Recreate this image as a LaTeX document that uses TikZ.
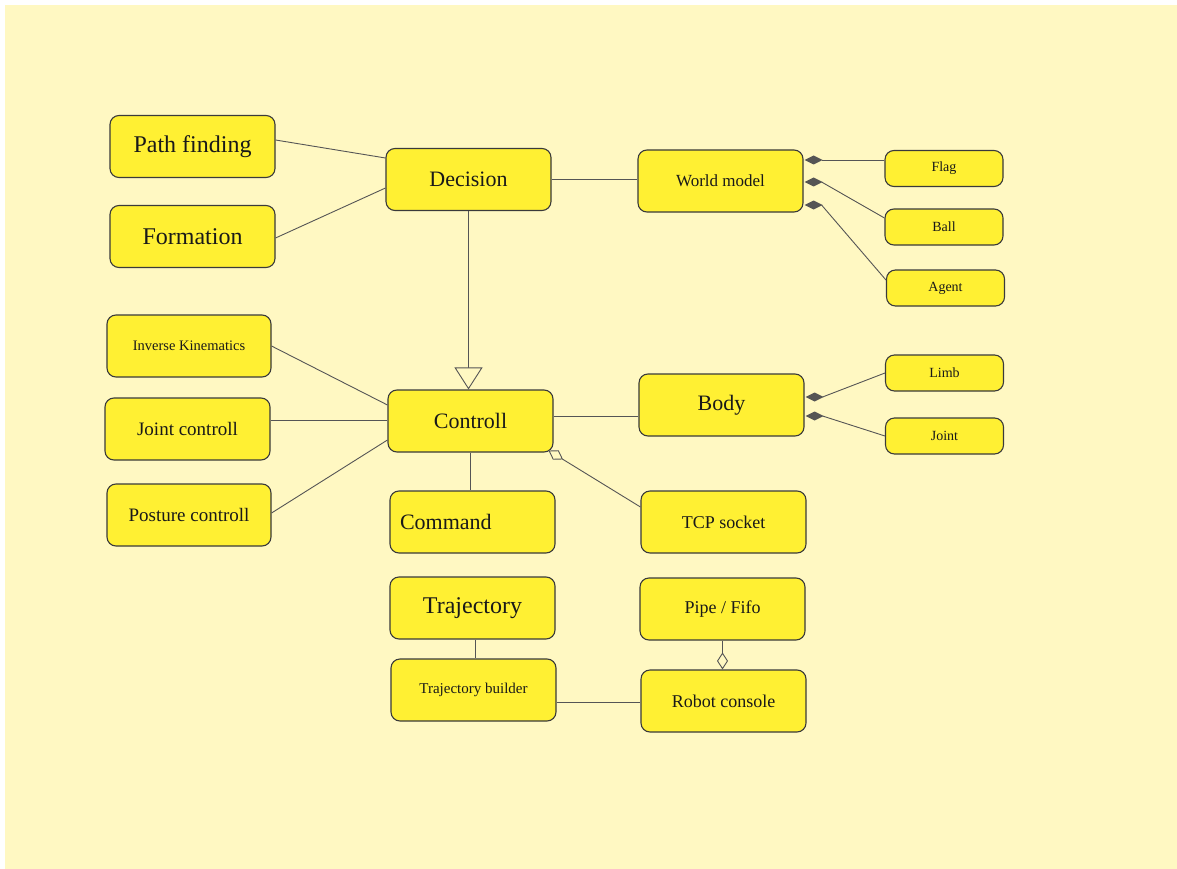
\documentclass[tikz,border=0pt]{standalone}
\usepackage{fontspec}
\setmainfont{Liberation Serif}
\usetikzlibrary{arrows.meta}
\definecolor{bg}{HTML}{FFF8C2}
\definecolor{boxfill}{HTML}{FFF033}
\definecolor{boxline}{HTML}{3A3A3A}
\definecolor{conn}{HTML}{555555}
\newcommand{\fs}[1]{\fontsize{#1}{#1}\selectfont}
\newcommand{\fdiam}[1]{\fill[conn] (#1) -- ++(9pt,4.5pt) -- ++(9pt,-4.5pt) -- ++(-9pt,-4.5pt) -- cycle;}
\begin{document}
\begin{tikzpicture}[x=1pt,y=1pt,
 box/.style={draw=boxline, line width=1.1pt, fill=boxfill, rounded corners=9pt, minimum width=165pt, minimum height=62pt, inner sep=0pt, text=black!90},
 smallbox/.style={box, minimum width=118pt, minimum height=36pt, font=\fs{14}},
 link/.style={draw=conn, line width=0.9pt},
 odia/.style={-{Diamond[open,length=17pt,width=11pt,fill=bg]}},
 otri/.style={-{Triangle[open,length=22pt,width=28pt,fill=bg]}}]
\useasboundingbox (0,0) rectangle (1177,-869);
\fill[white] (0,0) rectangle (1177,-869);
\fill[bg] (5,-5) rectangle (1177,-869);

\node[box, font=\fs{24}] (pf) at (192.5,-146.5) {Path finding};
\node[box, font=\fs{24}] (form) at (192.5,-236.5) {Formation};
\node[box, font=\fs{22}] (dec) at (468.5,-179.5) {Decision};
\node[box, font=\fs{17}] (wm) at (720.5,-181) {World model};
\node[smallbox] (flag) at (944,-168.5) {Flag};
\node[smallbox] (ball) at (944,-227) {Ball};
\node[smallbox] (agent) at (945.5,-288) {Agent};
\node[box, minimum width=164pt, font=\fs{14.5}] (ik) at (189,-346) {Inverse Kinematics};
\node[box, font=\fs{19}] (jc) at (187.5,-429) {Joint controll};
\node[box, minimum width=164pt, font=\fs{19}] (pc) at (189,-515) {Posture controll};
\node[box, font=\fs{22}] (ctl) at (470.5,-421) {Controll};
\node[box, font=\fs{22}] (body) at (721.5,-405) {Body};
\node[smallbox] (limb) at (944.5,-373) {Limb};
\node[smallbox] (joint) at (944.5,-436) {Joint};
\node[box, font=\fs{22}, text width=145pt, align=left] (cmd) at (472.5,-522) {Command};
\node[box, font=\fs{18}] (tcp) at (723.5,-522) {TCP socket};
\node[box, font=\fs{24}] (traj) at (472.5,-608) {Trajectory};
\node[box, font=\fs{18}] (pipe) at (722.5,-609) {Pipe / Fifo};
\node[box, font=\fs{15}] (tb) at (473.5,-690) {Trajectory builder};
\node[box, font=\fs{18}] (rc) at (723.5,-701) {Robot console};

% composition end points
\coordinate (wmflag) at ([xshift=1pt,yshift=21pt]wm.east);
\coordinate (wmball) at ([xshift=1pt,yshift=-1pt]wm.east);
\coordinate (wmagent) at ([xshift=1pt,yshift=-24pt]wm.east);
\coordinate (bdlimb) at ([xshift=1pt,yshift=8pt]body.east);
\coordinate (bdjoint) at ([xshift=1pt,yshift=-11pt]body.east);

% Decision group
\draw[link] ([yshift=6.5pt]pf.east) -- ([yshift=21.5pt]dec.west);
\draw[link] ([yshift=-1.5pt]form.east) -- ([yshift=-8.5pt]dec.west);
\draw[link] (dec.east) -- (dec.east -| wm.west);
\draw[link, otri] (dec.south) -- (dec.south |- ctl.north);

% World model parts
\draw[link] ([yshift=8.5pt]flag.west) -- ([xshift=17pt]wmflag);
\draw[link] ([yshift=9pt]ball.west) -- ([xshift=17pt]wmball);
\draw[link] ([yshift=8pt]agent.west) -- ([xshift=17pt]wmagent);
\fdiam{wmflag}
\fdiam{wmball}
\fdiam{wmagent}

% Controll group
\draw[link] (ik.east) -- ([yshift=16pt]ctl.west);
\draw[link] ([yshift=9pt]jc.east) -- ([yshift=1pt]ctl.west);
\draw[link] ([yshift=2pt]pc.east) -- ([yshift=-19pt]ctl.west);
\draw[link] ([yshift=5pt]ctl.east) -- ([yshift=-11pt]body.west);
\draw[link] (limb.west) -- ([xshift=17pt]bdlimb);
\draw[link] (joint.west) -- ([xshift=17pt]bdjoint);
\fdiam{bdlimb}
\fdiam{bdjoint}
\draw[link] (ctl.south) -- (ctl.south |- cmd.north);
\draw[link, odia] ([yshift=15pt]tcp.west) -- ([xshift=-5pt,yshift=2pt]ctl.south east);

% Trajectory group
\draw[link] ([xshift=2.5pt]traj.south) -- ([xshift=2.5pt]traj.south |- tb.north);
\draw[link] ([yshift=-12pt]tb.east) -- ([yshift=-12pt]tb.east -| rc.west);
\draw[link, odia] (pipe.south) -- (pipe.south |- rc.north);
\end{tikzpicture}
\end{document}
